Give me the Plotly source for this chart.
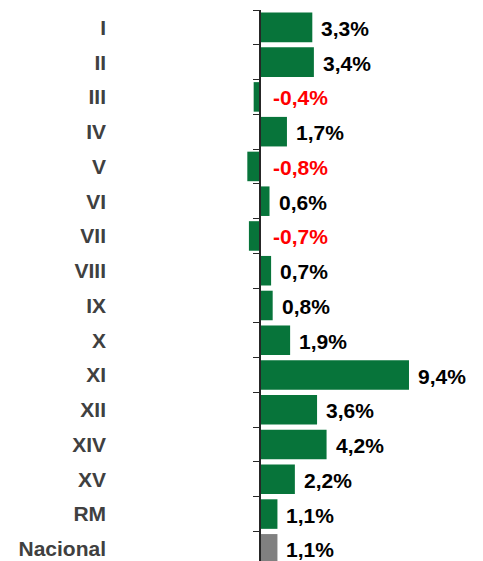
import plotly.graph_objects as go

categories = ["I", "II", "III", "IV", "V", "VI", "VII", "VIII", "IX", "X",
              "XI", "XII", "XIV", "XV", "RM", "Nacional"]
values = [3.3, 3.4, -0.4, 1.7, -0.8, 0.6, -0.7, 0.7, 0.8, 1.9,
          9.4, 3.6, 4.2, 2.2, 1.1, 1.1]

GREEN = "#07743A"
GRAY = "#808080"
FONT = "Liberation Sans, Arial, sans-serif"

bar_colors = [GRAY if c == "Nacional" else GREEN for c in categories]
labels = [f"{v:.1f}%".replace(".", ",") for v in values]
label_colors = ["#FF0000" if v < 0 else "#000000" for v in values]

fig = go.Figure()
fig.add_trace(go.Bar(
    x=values, y=categories, orientation="h",
    marker=dict(color=bar_colors, line=dict(width=0)),
    width=0.85, hoverinfo="skip",
))

for c, v, t, col in zip(categories, values, labels, label_colors):
    fig.add_annotation(
        x=max(v, 0), y=c, text=t, showarrow=False,
        xanchor="left", yanchor="middle", xshift=11 if v < 0 else 7, yshift=-1,
        font=dict(family=FONT, size=21, color=col, weight="bold"),
    )

# page body has an 8px default margin, so the figure is 8px smaller
W, H = 475, 553
px_per_unit = 15.85
zero_px = 252
x_range = [-zero_px / px_per_unit, (W - zero_px) / px_per_unit]

fig.update_layout(
    width=W, height=H,
    margin=dict(l=0, r=0, t=2, b=0),
    paper_bgcolor="white", plot_bgcolor="white",
    showlegend=False,
    xaxis=dict(range=x_range, visible=False, showgrid=False, zeroline=False),
    yaxis=dict(
        type="category", categoryorder="array", categoryarray=categories,
        range=[15.35, -0.5],
        anchor="free", position=zero_px / W,
        showline=True, linecolor="#262626", linewidth=1.5,
        ticks="outside", tickson="boundaries", ticklen=6, tickwidth=1.3, tickcolor="#262626",
        ticklabelstandoff=149,
        tickfont=dict(family=FONT, size=21, color="#404040", weight="bold"),
        showgrid=False, zeroline=False,
    ),
)

fig.write_html("out.html")
